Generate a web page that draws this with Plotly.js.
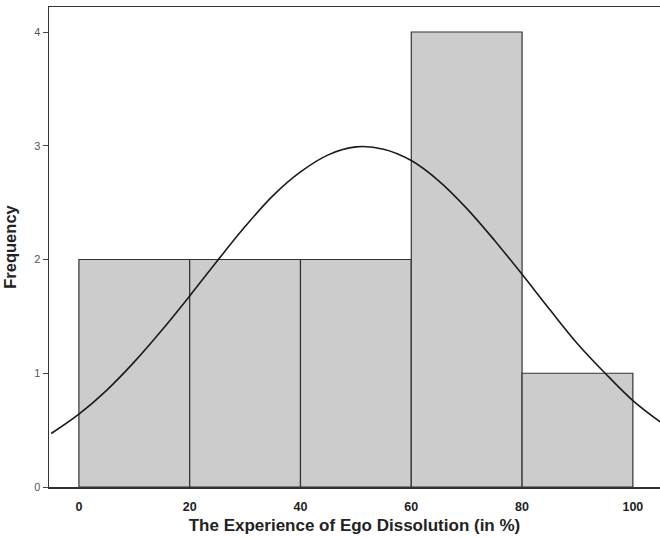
<!DOCTYPE html>
<html>
<head>
<meta charset="utf-8">
<script src="https://cdn.plot.ly/plotly-3.0.1.min.js"></script>
<style>html,body{margin:0;padding:0;background:#fff;}#chart{width:660px;height:538px;}</style>
</head>
<body>
<div id="chart"></div>
<script>
// Histogram bins (centers) and frequencies
const binCenters = [10, 30, 50, 70, 90];
const frequencies = [2, 2, 2, 4, 1];
const binWidth = 20;

// Normal curve
const curveX = [-5, 0, 5, 10, 15, 20, 25, 30, 35, 40, 45, 50, 55, 60, 65, 70, 75, 80, 85, 90, 95, 100, 105];
const curveY = [0.47, 0.64, 0.85, 1.10, 1.38, 1.68, 1.99, 2.29, 2.56, 2.77, 2.92, 2.99, 2.97, 2.87, 2.69, 2.45, 2.17, 1.87, 1.56, 1.26, 1.00, 0.76, 0.57];

const xTicks = [0, 20, 40, 60, 80, 100];
const yTicks = [0, 1, 2, 3, 4];

const data = [
  {
    type: 'bar',
    x: binCenters,
    y: frequencies,
    width: binCenters.map(() => binWidth),
    marker: { color: '#cccccc', line: { color: '#333333', width: 1.2 } },
    hoverinfo: 'skip'
  },
  {
    type: 'scatter',
    mode: 'lines',
    x: curveX,
    y: curveY,
    line: { color: '#1a1a1a', width: 1.6, shape: 'spline' },
    hoverinfo: 'skip'
  }
];

const layout = {
  width: 660,
  height: 538,
  margin: { l: 49, r: 0, t: 7, b: 51 },
  paper_bgcolor: '#ffffff',
  plot_bgcolor: '#ffffff',
  showlegend: false,
  font: { family: 'Liberation Sans, Arial, sans-serif', color: '#222' },
  xaxis: {
    range: [-5.4, 104.9],
    tickvals: xTicks,
    ticktext: xTicks.map(String),
    showgrid: false,
    zeroline: false,
    showline: true,
    linecolor: '#333333',
    linewidth: 1.5,
    mirror: true,
    ticks: '',
    ticklabelstandoff: 7,
    tickfont: { size: 12.5, weight: 'bold', color: '#222' },
    title: { text: 'The Experience of Ego Dissolution (in %)', font: { size: 17, weight: 'bold', color: '#222' }, standoff: 6 }
  },
  yaxis: {
    range: [0, 4.22],
    tickvals: yTicks,
    ticktext: yTicks.map(String),
    showgrid: false,
    zeroline: false,
    showline: true,
    linecolor: '#333333',
    linewidth: 1.5,
    ticks: 'outside',
    ticklen: 5,
    tickcolor: '#444444',
    tickfont: { size: 11, color: '#555555' },
    title: { text: 'Frequency', font: { size: 16.5, weight: 'bold', color: '#222' }, standoff: 13 }
  },
  bargap: 0
};

Plotly.newPlot('chart', data, layout, { displayModeBar: false, staticPlot: true });
</script>
</body>
</html>
